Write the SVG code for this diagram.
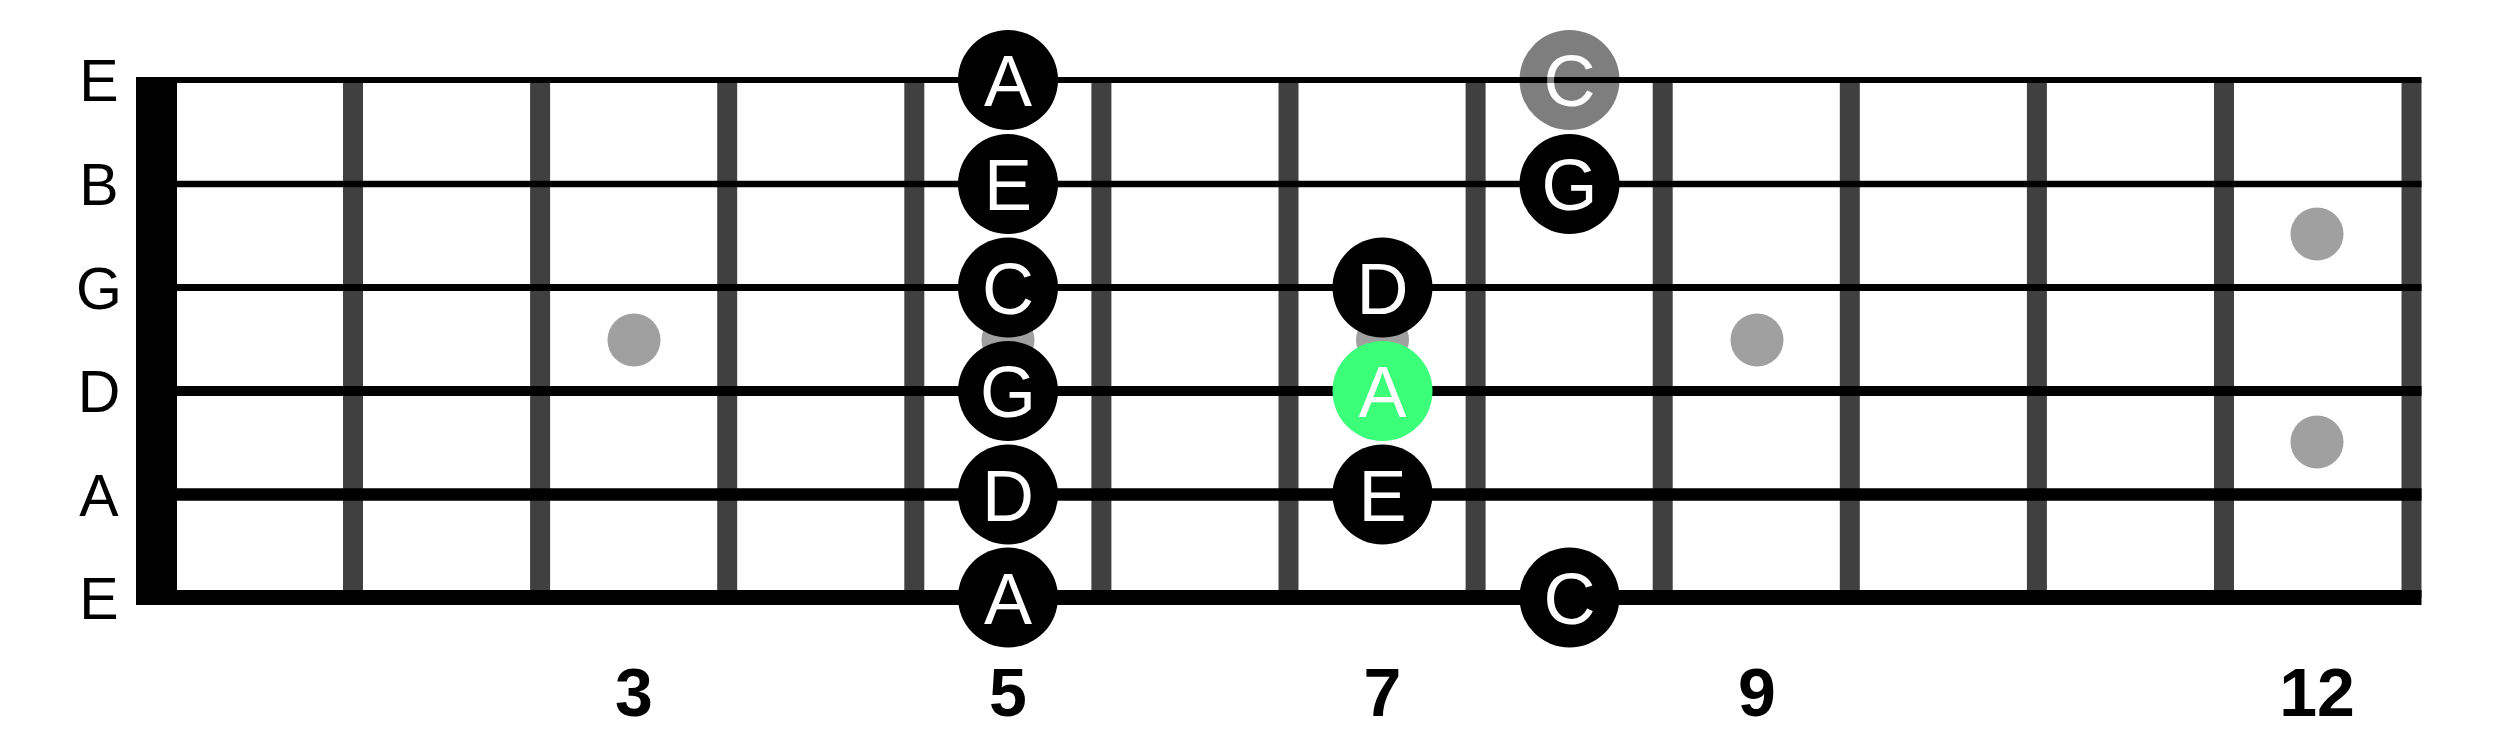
<svg xmlns="http://www.w3.org/2000/svg" width="2500" height="736" viewBox="0 0 2500 736">
<style>
.fret{fill:#404040}
.str{stroke:#000}
.inlay{fill:#a0a0a0}
.note circle{fill:#000}
.note text{fill:#fff;font-family:"Liberation Sans",Arial,sans-serif;font-size:72px;text-anchor:middle}
.root circle{fill:#3bff79}
.ghost{opacity:0.5}
.slabel{fill:#000;font-family:"Liberation Sans",Arial,sans-serif;font-size:59px;text-anchor:middle}
.fnum{fill:#000;font-family:"Liberation Sans",Arial,sans-serif;font-size:68px;font-weight:bold;text-anchor:middle}
</style>
<rect width="2500" height="736" fill="#fff"/>
<g id="fretboard">
<g id="frets">
<rect class="fret" x="343" y="80" width="20" height="518"/>
<rect class="fret" x="530.1" y="80" width="20" height="518"/>
<rect class="fret" x="717.2" y="80" width="20" height="518"/>
<rect class="fret" x="904.3" y="80" width="20" height="518"/>
<rect class="fret" x="1091.4" y="80" width="20" height="518"/>
<rect class="fret" x="1278.5" y="80" width="20" height="518"/>
<rect class="fret" x="1465.6" y="80" width="20" height="518"/>
<rect class="fret" x="1652.7" y="80" width="20" height="518"/>
<rect class="fret" x="1839.8" y="80" width="20" height="518"/>
<rect class="fret" x="2026.9" y="80" width="20" height="518"/>
<rect class="fret" x="2214" y="80" width="20" height="518"/>
<rect class="fret" x="2401.5" y="80" width="20" height="518"/>
</g>
<g id="inlays">
<circle class="inlay" cx="634" cy="340" r="26.5"/>
<circle class="inlay" cx="1008" cy="340" r="26.5"/>
<circle class="inlay" cx="1382.5" cy="340" r="26.5"/>
<circle class="inlay" cx="1757" cy="340" r="26.5"/>
<circle class="inlay" cx="2317" cy="234" r="26.5"/>
<circle class="inlay" cx="2317" cy="442" r="26.5"/>
</g>
<g id="strings">
<line class="str" x1="136" y1="80" x2="2421.5" y2="80" stroke-width="6"/>
<line class="str" x1="136" y1="184" x2="2421.5" y2="184" stroke-width="6.5"/>
<line class="str" x1="136" y1="287.5" x2="2421.5" y2="287.5" stroke-width="7"/>
<line class="str" x1="136" y1="391" x2="2421.5" y2="391" stroke-width="10"/>
<line class="str" x1="136" y1="494.5" x2="2421.5" y2="494.5" stroke-width="12.5"/>
<line class="str" x1="136" y1="597.5" x2="2421.5" y2="597.5" stroke-width="15"/>
</g>
<rect id="nut" x="136" y="77" width="41" height="528" fill="#000"/>
</g>
<g id="string-labels">
<text class="slabel" x="99" y="101">E</text>
<text class="slabel" x="99" y="205">B</text>
<text class="slabel" x="99" y="308.5">G</text>
<text class="slabel" x="99" y="412">D</text>
<text class="slabel" x="99" y="515.5">A</text>
<text class="slabel" x="99" y="618.5">E</text>
</g>
<g id="fret-numbers">
<text class="fnum" x="634" y="716">3</text>
<text class="fnum" x="1008" y="716">5</text>
<text class="fnum" x="1382.5" y="716">7</text>
<text class="fnum" x="1757" y="716">9</text>
<text class="fnum" x="2317" y="716">12</text>
</g>
<g id="notes">
<g id="n5-e1" class="note"><circle cx="1008" cy="80" r="50"/><text x="1008" y="106">A</text></g>
<g id="n5-b" class="note"><circle cx="1008" cy="184" r="50"/><text x="1008" y="210">E</text></g>
<g id="n5-g" class="note"><circle cx="1008" cy="287.5" r="50"/><text x="1008" y="313.5">C</text></g>
<g id="n5-d" class="note"><circle cx="1008" cy="391" r="50"/><text x="1008" y="417">G</text></g>
<g id="n5-a" class="note"><circle cx="1008" cy="494.5" r="50"/><text x="1008" y="520.5">D</text></g>
<g id="n5-e6" class="note"><circle cx="1008" cy="597.5" r="50"/><text x="1008" y="623.5">A</text></g>
<g id="n7-g" class="note"><circle cx="1382.5" cy="287.5" r="50"/><text x="1382.5" y="313.5">D</text></g>
<g id="n7-d" class="note root"><circle cx="1382.5" cy="391" r="50"/><text x="1382.5" y="417">A</text></g>
<g id="n7-a" class="note"><circle cx="1382.5" cy="494.5" r="50"/><text x="1382.5" y="520.5">E</text></g>
<g id="n8-e1" class="note ghost"><circle cx="1569.5" cy="80" r="50"/><text x="1569.5" y="106">C</text></g>
<g id="n8-b" class="note"><circle cx="1569.5" cy="184" r="50"/><text x="1569.5" y="210">G</text></g>
<g id="n8-e6" class="note"><circle cx="1569.5" cy="597.5" r="50"/><text x="1569.5" y="623.5">C</text></g>
</g>
</svg>
